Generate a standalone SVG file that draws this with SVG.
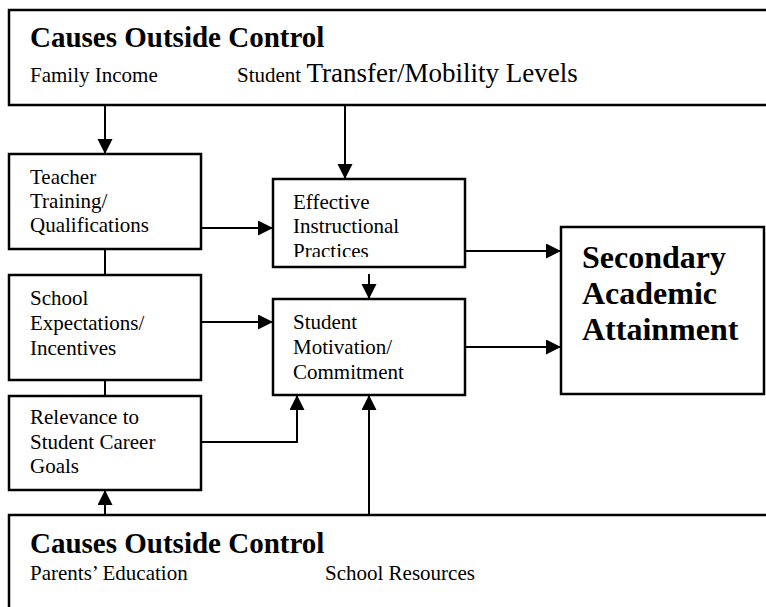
<svg xmlns="http://www.w3.org/2000/svg" width="766" height="607" viewBox="0 0 766 607">
<defs>
<style>
.box{fill:#fff;stroke:#000;stroke-width:2.5}
.ln{fill:none;stroke:#000;stroke-width:2}
.t{font-family:"Liberation Serif","Times New Roman",serif;font-size:21px;fill:#000}
.h{font-family:"Liberation Serif","Times New Roman",serif;font-size:29px;font-weight:bold;fill:#000}
.big{font-family:"Liberation Serif","Times New Roman",serif;font-size:32px;font-weight:bold;fill:#000}
</style>
<marker id="arr" markerUnits="userSpaceOnUse" markerWidth="16" markerHeight="16" refX="15" refY="7.5" orient="auto">
<path d="M0,0 L15,7.5 L0,15 z" fill="#000"/>
</marker>
<clipPath id="clipEff"><rect x="273" y="179" width="192" height="78"/></clipPath>
</defs>
<rect width="766" height="607" fill="#fff"/>
<g id="connectors">
<path class="ln" d="M105,105 V154" marker-end="url(#arr)"/>
<path class="ln" d="M345,105 V179" marker-end="url(#arr)"/>
<path class="ln" d="M201,228 H273" marker-end="url(#arr)"/>
<path class="ln" d="M105,249 V275"/>
<path class="ln" d="M105,380 V396"/>
<path class="ln" d="M201,322 H273" marker-end="url(#arr)"/>
<path class="ln" d="M369,274 V299" marker-end="url(#arr)"/>
<path class="ln" d="M201,442 H297 V395" marker-end="url(#arr)"/>
<path class="ln" d="M105,515 V490" marker-end="url(#arr)"/>
<path class="ln" d="M369,515 V395" marker-end="url(#arr)"/>
<path class="ln" d="M465,251 H561" marker-end="url(#arr)"/>
<path class="ln" d="M465,347 H561" marker-end="url(#arr)"/>
</g>
<g id="top">
<rect class="box" x="9" y="10" width="780" height="95"/>
<text class="h" x="30" y="47">Causes Outside Control</text>
<text class="t" x="30" y="82">Family Income</text>
<text class="t" x="237" y="82">Student <tspan style="font-size:27px">Transfer/Mobility Levels</tspan></text>
</g>
<g id="teacher">
<rect class="box" x="9" y="154" width="192" height="95"/>
<text class="t" x="30" y="184">Teacher</text>
<text class="t" x="30" y="208">Training/</text>
<text class="t" x="30" y="232">Qualifications</text>
</g>
<g id="school">
<rect class="box" x="9" y="275" width="192" height="105"/>
<text class="t" x="30" y="305">School</text>
<text class="t" x="30" y="330">Expectations/</text>
<text class="t" x="30" y="355">Incentives</text>
</g>
<g id="relevance">
<rect class="box" x="9" y="396" width="192" height="94"/>
<text class="t" x="30" y="424">Relevance to</text>
<text class="t" x="30" y="449">Student Career</text>
<text class="t" x="30" y="473">Goals</text>
</g>
<g id="effective">
<rect class="box" x="273" y="179" width="192" height="88"/>
<g clip-path="url(#clipEff)">
<text class="t" x="293" y="209">Effective</text>
<text class="t" x="293" y="233">Instructional</text>
<text class="t" x="293" y="258">Practices</text>
</g>
</g>
<g id="student">
<rect class="box" x="273" y="299" width="192" height="96"/>
<text class="t" x="293" y="329">Student</text>
<text class="t" x="293" y="354">Motivation/</text>
<text class="t" x="293" y="379">Commitment</text>
</g>
<g id="secondary">
<rect class="box" x="561" y="227" width="203" height="167"/>
<text class="big" x="582" y="268">Secondary</text>
<text class="big" x="582" y="304">Academic</text>
<text class="big" x="582" y="340">Attainment</text>
</g>
<g id="bottom">
<rect class="box" x="9" y="515" width="780" height="110"/>
<text class="h" x="30" y="553">Causes Outside Control</text>
<text class="t" x="30" y="580">Parents’ Education</text>
<text class="t" x="325" y="580">School Resources</text>
</g>
</svg>
